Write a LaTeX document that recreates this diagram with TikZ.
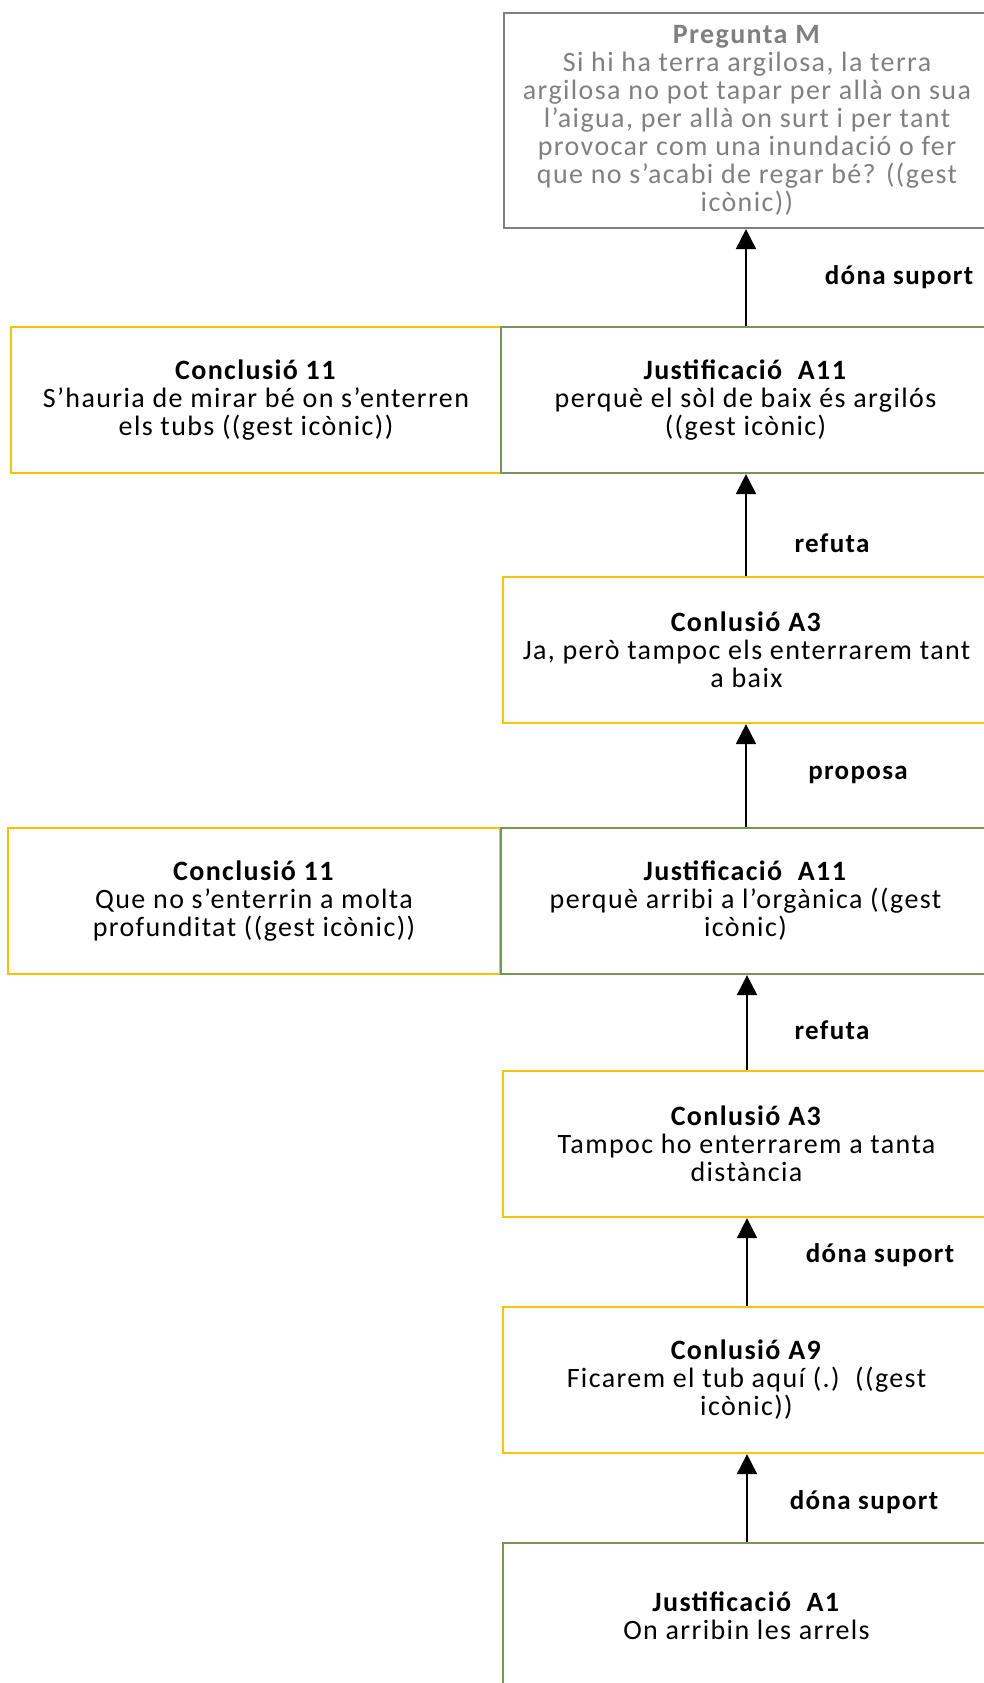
\documentclass[tikz,border=0pt]{standalone}
\usepackage{fontspec}
\setmainfont{Carlito}[LetterSpace=5]
\usetikzlibrary{arrows.meta}
\definecolor{qgray}{RGB}{128,128,128}
\definecolor{concl}{RGB}{255,192,0}
\definecolor{just}{RGB}{118,150,84}
\begin{document}
\begin{tikzpicture}[x=0.5pt,y=-0.5pt,
  box/.style={draw, line width=1.1pt, rectangle, inner sep=0pt, align=center,
    font=\fontsize{14}{14}\selectfont, minimum height=73pt},
  question/.style={box, draw=qgray, text=qgray, minimum width=243pt, minimum height=107.5pt},
  conclbox/.style={box, draw=concl},
  justbox/.style={box, draw=just},
  arr/.style={-{Triangle[width=10pt,length=10pt]}, line width=1pt, black},
  rel/.style={font=\bfseries\fontsize{13.5}{14}\selectfont, inner sep=0pt}]
\useasboundingbox (0,0) rectangle (984,1683);
\clip (0,0) rectangle (984,1683);

% question at the top
\node[question] (pm) at (747,120.5)
  {\textbf{Pregunta M}\\Si hi ha terra argilosa, la terra\\argilosa no pot tapar per allà on sua\\l’aigua, per allà on surt i per tant\\provocar com una inundació o fer\\que no s’acabi de regar bé? ((gest\\icònic))};

% second row
\node[conclbox, minimum width=245pt] (c11a) at (256,400)
  {\textbf{Conclusió 11}\\S’hauria de mirar bé on s’enterren\\els tubs ((gest icònic))};
\node[justbox, minimum width=244.5pt] (j11a) at (745.5,400)
  {\textbf{Justificació\ \ A11}\\perquè el sòl de baix és argilós\\((gest icònic)};

\node[conclbox, minimum width=243.5pt] (a3a) at (746.5,650)
  {\textbf{Conlusió A3}\\Ja, però tampoc els enterrarem tant\\a baix};

% fourth row
\node[conclbox, minimum width=246pt] (c11b) at (254,901)
  {\textbf{Conclusió 11}\\Que no s’enterrin a molta\\profunditat ((gest icònic))};
\node[justbox, minimum width=244.5pt] (j11b) at (745.5,901)
  {\textbf{Justificació\ \ A11}\\perquè arribi a l’orgànica ((gest\\icònic)};

\node[conclbox, minimum width=243.5pt] (a3b) at (746.5,1144)
  {\textbf{Conlusió A3}\\Tampoc ho enterrarem a tanta\\distància};

\node[conclbox, minimum width=243.5pt] (a9) at (746.5,1380)
  {\textbf{Conlusió A9}\\Ficarem el tub aquí (.)\ \ ((gest\\icònic))};

\node[justbox, minimum width=243.5pt, minimum height=72.5pt] (a1) at (746.5,1615.5)
  {\textbf{Justificació\ \ A1}\\On arribin les arrels};

% connectors
\draw[arr] (j11a.north -| 746,0) -- (746,0 |- pm.south);
\draw[arr] (a3a.north -| 746,0) -- (746,0 |- j11a.south);
\draw[arr] (j11b.north -| 746,0) -- (746,0 |- a3a.south);
\draw[arr] (a3b.north -| 747,0) -- (747,0 |- j11b.south);
\draw[arr] (a9.north -| 747,0) -- (747,0 |- a3b.south);
\draw[arr] (a1.north -| 747,0) -- (747,0 |- a9.south);

% relation labels
\node[rel] (l1) at (899,277) {dóna suport};
\node[rel] (l2) at (832,543) {refuta};
\node[rel] (l3) at (858,775) {proposa};
\node[rel] (l4) at (832,1030) {refuta};
\node[rel] (l5) at (880,1255) {dóna suport};
\node[rel] (l6) at (864,1502) {dóna suport};
\end{tikzpicture}
\end{document}
